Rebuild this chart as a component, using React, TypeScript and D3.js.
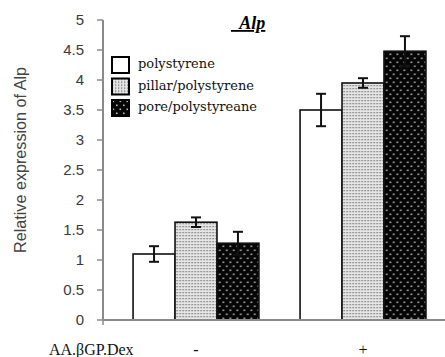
import React from "react";
import * as d3 from "d3";

// conditions on the x axis and the three substrates
const conditions = ["-", "+"];
const seriesNames = ["polystyrene", "pillar/polystyrene", "pore/polystyreane"];

// relative expression of Alp, mean and error for each substrate
const polystyrene = [1.1, 3.5];
const polystyreneErr = [0.13, 0.27];
const pillar = [1.63, 3.95];
const pillarErr = [0.08, 0.08];
const pore = [1.28, 4.48];
const poreErr = [0.19, 0.25];

const yTickValues = [0, 0.5, 1, 1.5, 2, 2.5, 3, 3.5, 4, 4.5, 5];

const W = 445, H = 357;

const App = () => {
  const y = d3.scaleLinear().domain([0, 5]).range([320, 20]);
  const x0 = d3.scaleBand<string>().domain(conditions).range([112.5, 446.5]).padding(0);
  const x1 = d3.scaleBand<string>().domain(seriesNames).range([0, x0.bandwidth()])
    .paddingInner(0).paddingOuter(0.49);

  const means = [polystyrene, pillar, pore];
  const errs = [polystyreneErr, pillarErr, poreErr];
  const fills = ["#ffffff", "url(#pillar)", "url(#pore)"];

  const axisX = 103;
  const axisGrey = "#8a8a8a";

  return (
    <svg width={W} height={H} style={{ position: "absolute", left: 0, top: 0, background: "#fff" }}>
      <defs>
        <pattern id="pillar" width="3" height="3" patternUnits="userSpaceOnUse">
          <rect width="3" height="3" fill="#e6e6e6" />
          <rect x="1" y="1" width="1.3" height="1.3" fill="#6e6e6e" />
        </pattern>
        <pattern id="pore" width="7" height="8" patternUnits="userSpaceOnUse">
          <rect width="7" height="8" fill="#050505" />
          <rect x="1.5" y="1.5" width="1.6" height="1.6" fill="#b8b8b8" />
          <rect x="5" y="5.5" width="1.6" height="1.6" fill="#b8b8b8" />
        </pattern>
      </defs>

      {/* y axis */}
      <line x1={axisX} x2={axisX} y1={y(5)} y2={y(0)} stroke={axisGrey} strokeWidth={2} />
      {yTickValues.map((t) => (
        <g key={t}>
          <line x1={axisX - 6} x2={axisX} y1={y(t)} y2={y(t)} stroke={axisGrey} strokeWidth={1.5} />
          <text x={84} y={y(t)} dy="0.35em" textAnchor="end"
            fontFamily="Liberation Sans, Arial, sans-serif" fontSize={15} fill="#3a3a3a">
            {String(t)}
          </text>
        </g>
      ))}
      <text transform={`translate(26,${160}) rotate(-90)`} textAnchor="middle"
        fontFamily="Liberation Sans, sans-serif" fontSize={17} fill="#444"
        textLength={186} lengthAdjust="spacingAndGlyphs">
        Relative expression of Alp
      </text>

      {/* bars */}
      {conditions.map((c, ci) => (
        <g key={c} transform={`translate(${x0(c)},0)`}>
          {seriesNames.map((s, si) => {
            const v = means[si][ci];
            const e = errs[si][ci];
            const bx = x1(s) as number;
            const cx = bx + x1.bandwidth() / 2;
            return (
              <g key={s}>
                <rect x={bx} y={y(v)} width={x1.bandwidth()} height={y(0) - y(v)}
                  fill={fills[si]} stroke="#111" strokeWidth={1.6} />
                <line x1={cx} x2={cx} y1={y(v + e)} y2={y(v - e)} stroke="#111" strokeWidth={2} />
                <line x1={cx - 5} x2={cx + 5} y1={y(v + e)} y2={y(v + e)} stroke="#111" strokeWidth={2} />
                <line x1={cx - 5} x2={cx + 5} y1={y(v - e)} y2={y(v - e)} stroke="#111" strokeWidth={2} />
              </g>
            );
          })}
        </g>
      ))}

      {/* x axis */}
      <line x1={axisX} x2={W} y1={y(0)} y2={y(0)} stroke={axisGrey} strokeWidth={2} />
      <line x1={axisX} x2={axisX} y1={y(0)} y2={y(0) + 5} stroke={axisGrey} strokeWidth={1.5} />

      {/* title */}
      <text x={231} y={29} fontFamily="Liberation Serif, serif" fontSize={18}
        fontWeight="bold" fontStyle="italic" fill="#000" textDecoration="underline"
        style={{ whiteSpace: "pre" }}>
        {"  Alp"}
      </text>

      {/* legend */}
      {seriesNames.map((s, i) => (
        <g key={s} transform={`translate(111,${56 + i * 21.5})`}>
          <rect x={1} y={1} width={17} height={16} fill={fills[i]} stroke="#000" strokeWidth={2} />
          <text x={27} y={12} fontFamily="DejaVu Serif, serif" fontSize={13} fill="#111">{s}</text>
        </g>
      ))}

      {/* condition row */}
      <text x={49} y={355} fontFamily="Liberation Serif, serif" fontSize={16} fill="#111">AA.βGP.Dex</text>
      {conditions.map((c) => (
        <text key={c} x={(x0(c) as number) + x0.bandwidth() / 2} y={355} textAnchor="middle"
          fontFamily="Liberation Serif, serif" fontSize={16} fill="#111">{c}</text>
      ))}
    </svg>
  );
};

export default App;
